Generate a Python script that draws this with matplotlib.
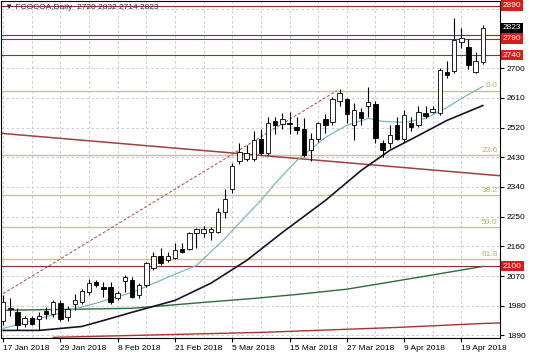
import matplotlib
matplotlib.use("Agg")
import matplotlib.pyplot as plt
import numpy as np

plt.rcParams['font.family'] = ['Liberation Sans', 'DejaVu Sans']

# daily candles, 17 Jan 2018 .. 24 Apr 2018
opens = [1935, 1970, 1960, 1923, 1942, 1939, 1963, 1954, 1987, 1945,
         1984, 1990, 2020, 2051, 2036, 2036, 2002, 2054, 2057, 2011,
         2042, 2093, 2132, 2120, 2126, 2151, 2151, 2199, 2199, 2202,
         2202, 2263, 2335, 2420, 2426, 2426, 2487, 2442, 2539, 2530,
         2535, 2523, 2517, 2451, 2487, 2545, 2536, 2602, 2608, 2527,
         2566, 2587, 2593, 2472, 2472, 2527, 2487, 2533, 2527, 2563,
         2566, 2563, 2690, 2693, 2781, 2763, 2690, 2720]
highs = [2012, 2002, 1972, 1950, 1950, 1960, 1975, 1996, 1996, 1978,
         2014, 2030, 2060, 2057, 2051, 2051, 2026, 2072, 2066, 2048,
         2111, 2142, 2154, 2142, 2169, 2169, 2202, 2217, 2223, 2220,
         2275, 2335, 2414, 2472, 2466, 2511, 2517, 2551, 2551, 2563,
         2566, 2551, 2548, 2505, 2536, 2560, 2614, 2638, 2611, 2596,
         2578, 2642, 2602, 2481, 2527, 2551, 2572, 2551, 2587, 2587,
         2587, 2702, 2723, 2851, 2823, 2790, 2748, 2832]
lows = [1920, 1950, 1905, 1914, 1920, 1905, 1939, 1945, 1935, 1935,
        1966, 1984, 2011, 2036, 2005, 1985, 1996, 2020, 2002, 2002,
        2036, 2087, 2102, 2111, 2123, 2139, 2148, 2154, 2187, 2178,
        2199, 2245, 2323, 2411, 2420, 2420, 2436, 2436, 2502, 2517,
        2502, 2502, 2430, 2420, 2475, 2505, 2527, 2587, 2533, 2481,
        2527, 2551, 2472, 2432, 2457, 2481, 2475, 2511, 2521, 2548,
        2563, 2557, 2672, 2687, 2762, 2699, 2687, 2714]
closes = [1990, 1972, 1920, 1942, 1924, 1950, 1954, 1990, 1940, 1969,
          1996, 2026, 2048, 2042, 2030, 1990, 2017, 2066, 2005, 2042,
          2108, 2132, 2108, 2132, 2148, 2142, 2199, 2214, 2214, 2214,
          2263, 2305, 2405, 2445, 2442, 2481, 2442, 2535, 2527, 2545,
          2530, 2514, 2436, 2487, 2533, 2527, 2608, 2626, 2560, 2572,
          2548, 2599, 2490, 2451, 2499, 2487, 2557, 2521, 2566, 2554,
          2575, 2696, 2681, 2787, 2793, 2711, 2723, 2823]

date_labels = ["17 Jan 2018", "29 Jan 2018", "8 Feb 2018", "21 Feb 2018",
               "5 Mar 2018", "15 Mar 2018", "27 Mar 2018", "9 Apr 2018",
               "19 Apr 2018"]

# moving averages (bar index, price)
ma_fast_x = [0, 8, 13, 18, 24, 27, 31, 34, 36, 38, 41, 45, 48, 51, 53, 56, 59, 62, 64, 67]
ma_fast_y = [1911, 1958, 1988, 2020, 2075, 2102, 2184, 2254, 2299, 2351,
             2420, 2490, 2527, 2548, 2539, 2536, 2548, 2581, 2608, 2645]
ma_mid_x = [0, 5, 11, 14, 18, 24, 29, 34, 39, 45, 50, 54, 58, 62, 67]
ma_mid_y = [1905, 1905, 1917, 1935, 1960, 1996, 2048, 2117, 2202, 2299,
            2390, 2451, 2496, 2542, 2587]
ma_slow_x = [0, 18, 28, 35, 41, 48, 58, 67]
ma_slow_y = [1966, 1972, 1990, 2002, 2014, 2030, 2066, 2099]
ma_long_x = [7, 36, 55, 67, 70]
ma_long_y = [1884, 1899, 1914, 1926, 1928]

# levels
red_levels = [2890, 2802, 2790, 2740, 2100]
red_labels = {2890: "2890", 2790: "2790", 2740: "2740", 2100: "2100"}
fib_pcts = [0.0, 23.6, 38.2, 50.0, 61.8]
fib_low, fib_high = 1805, 2632
fib_low_bar, fib_high_bar = -16, 46.6
trend_x = [-1, 70]
trend_y = [2504, 2373]
last_close = 2823

RED = "#9c2a2a"
KHAKI = "#cbc48c"

fig = plt.figure(figsize=(5.36, 3.57), dpi=100)
ax = fig.add_axes([1 / 536, 19 / 357, 499 / 536, 337 / 357])

x = np.arange(len(opens))
o = np.array(opens); c = np.array(closes)
h = np.array(highs); l = np.array(lows)
up = c >= o

# grid
yticks = np.arange(1890, 2900, 90)
ax.set_yticks(yticks)
# labels hidden under the coloured price boxes
ax.set_yticklabels(["" if (t in (2790, 2880)) else str(t) for t in yticks])
ax.set_xticks(np.arange(0, 68, 8))
ax.set_xticks(np.arange(4, 68, 8), minor=True)
ax.set_xticklabels(date_labels)
ax.grid(True, which='both', axis='x', color='#c4c4c4', ls=(0, (3, 3)), lw=0.6)
ax.grid(True, which='major', axis='y', color='#c4c4c4', ls=(0, (3, 3)), lw=0.6)
ax.set_axisbelow(True)

# fibonacci
rng = fib_high - fib_low
for p in fib_pcts:
    lv = fib_high - rng * p / 100
    ax.axhline(lv, color=KHAKI, lw=1.0, zorder=1)
    ax.text(0.995, lv + 4, f"{p:.1f}", transform=ax.get_yaxis_transform(),
            ha='right', va='bottom', fontsize=6, color='#b8ae6a')
ax.plot([fib_low_bar, fib_high_bar], [fib_low, fib_high], color='#a84848',
        lw=0.7, ls=(0, (3, 2)), zorder=2)

# red levels and trendline
for lv in red_levels:
    ax.axhline(lv, color=RED, lw=0.8, zorder=2)
ax.plot(trend_x, trend_y, color='#a04040', lw=1.1, zorder=2)

# moving averages
ax.plot(ma_long_x, ma_long_y, color='#b03030', lw=1.0, zorder=2)
ax.plot(ma_slow_x, ma_slow_y, color='#2e6b3a', lw=1.0, zorder=2)
ax.plot(ma_mid_x, ma_mid_y, color='#14142a', lw=1.2, zorder=2)
ax.plot(ma_fast_x, ma_fast_y, color='#7ab8bc', lw=0.9, zorder=2)

# candles
ax.vlines(x, l, h, color='black', lw=0.8, zorder=3)
body_h = np.maximum(np.abs(c - o), 2)
ax.bar(x, body_h, bottom=np.minimum(o, c), width=0.62,
       color=np.where(up, 'white', 'black'), edgecolor='black', lw=0.6, zorder=4)

ax.set_xlim(-0.3, 69.4)
ax.set_ylim(1882, 2904)

# axes styling
ax.yaxis.tick_right()
ax.tick_params(axis='y', labelsize=6, length=3, pad=2, colors='black')
ax.tick_params(axis='x', which='major', labelsize=6, length=3, pad=2)
ax.tick_params(axis='x', which='minor', length=0)
for lbl in ax.get_xticklabels():
    lbl.set_ha('left')
for s in ax.spines.values():
    s.set_color('black')
    s.set_linewidth(0.8)

# price labels on the right axis
for lv, txt in red_labels.items():
    ax.text(1.006, lv, txt, transform=ax.get_yaxis_transform(), ha='left',
            va='center', fontsize=6, color='white', zorder=10, clip_on=False,
            bbox=dict(boxstyle='square,pad=0.2', fc='#e01818', ec='none'))
ax.text(1.006, last_close, str(last_close), transform=ax.get_yaxis_transform(),
        ha='left', va='center', fontsize=6, color='white', zorder=11, clip_on=False,
        bbox=dict(boxstyle='square,pad=0.2', fc='black', ec='none'))

ax.text(0.008, 0.992, "\u25bc FCOCOA,Daily  2720 2832 2714 2823",
        transform=ax.transAxes, ha='left', va='top', fontsize=6, color='#333333')

fig.savefig("out.png", dpi=100)
